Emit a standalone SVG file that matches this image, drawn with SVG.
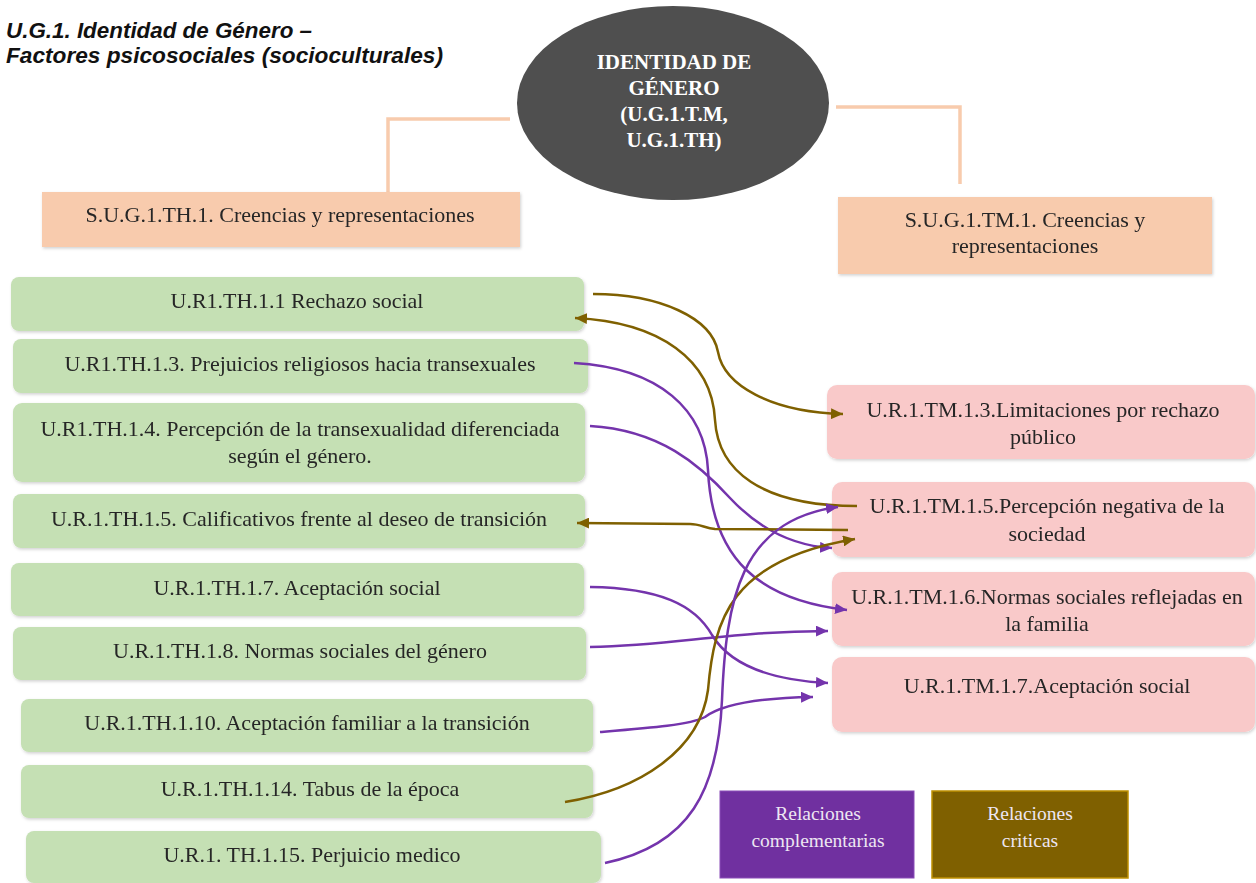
<svg xmlns="http://www.w3.org/2000/svg" width="1256" height="883" viewBox="0 0 1256 883">
<defs>
<style>
.t{font-family:"Liberation Serif","Times New Roman",serif;font-size:22px;fill:#262626;text-anchor:middle}
.g{fill:#C5E0B4}
.p{fill:#F9C9C9}
.o{fill:#F8CBAD}
.cp{fill:none;stroke:#7434AC;stroke-width:2.5}
.co{fill:none;stroke:#7F6000;stroke-width:2.5}
.lnk{fill:none;stroke:#F8CBAD;stroke-width:3.5}
.lg{font-family:"Liberation Serif","Times New Roman",serif;font-size:19.5px;fill:#EDE6F2;text-anchor:middle}
</style>
<filter id="sh" x="-5%" y="-20%" width="110%" height="140%">
<feDropShadow dx="1" dy="1.5" stdDeviation="1.5" flood-color="#000" flood-opacity="0.18"/>
</filter>
<marker id="ap" markerUnits="userSpaceOnUse" markerWidth="12" markerHeight="11" refX="12" refY="5.5" orient="auto"><path d="M0,0 L12,5.5 L0,11 z" fill="#7434AC"/></marker>
<marker id="ao" markerUnits="userSpaceOnUse" markerWidth="12" markerHeight="11" refX="12" refY="5.5" orient="auto"><path d="M0,0 L12,5.5 L0,11 z" fill="#7F6000"/></marker>
</defs>
<rect width="1256" height="883" fill="#fff"/>

<g id="title" font-family="'Liberation Sans',Arial,sans-serif" font-weight="bold" font-style="italic" font-size="22" fill="#111">
<text x="6" y="38" textLength="306" lengthAdjust="spacingAndGlyphs">U.G.1. Identidad de Género –</text>
<text x="6" y="63" textLength="437" lengthAdjust="spacingAndGlyphs">Factores psicosociales (socioculturales)</text>
</g>

<g id="tree-links">
<path class="lnk" d="M510,119 L388,119 L388,192"/>
<path class="lnk" d="M836,107 L960,107 L960,184"/>
</g>

<g id="root">
<ellipse cx="673" cy="103" rx="156" ry="97" fill="#4F4F4F"/>
<g font-family="'Liberation Serif','Times New Roman',serif" font-weight="bold" font-size="21" fill="#fff" text-anchor="middle">
<text x="674" y="69">IDENTIDAD DE</text>
<text x="674" y="95">GÉNERO</text>
<text x="674" y="121">(U.G.1.T.M,</text>
<text x="674" y="147">U.G.1.TH)</text>
</g>
</g>

<g id="sub-th" filter="url(#sh)"><rect class="o" x="42" y="192" width="478" height="55"/><text class="t" x="280" y="222">S.U.G.1.TH.1. Creencias y representaciones</text></g>
<g id="sub-tm" filter="url(#sh)"><rect class="o" x="838" y="197" width="374" height="77"/><text class="t" x="1025" y="227">S.U.G.1.TM.1. Creencias y</text><text class="t" x="1025" y="253">representaciones</text></g>

<g id="th11" filter="url(#sh)"><rect class="g" x="11" y="277" width="573" height="54" rx="8"/><text class="t" x="297" y="308">U.R1.TH.1.1 Rechazo social</text></g>
<g id="th13" filter="url(#sh)"><rect class="g" x="13" y="339" width="575" height="54" rx="8"/><text class="t" x="300" y="371">U.R1.TH.1.3.  Prejuicios religiosos hacia transexuales</text></g>
<g id="th14" filter="url(#sh)"><rect class="g" x="13" y="403" width="572" height="79" rx="9"/><text class="t" x="300" y="436">U.R1.TH.1.4. Percepción de la transexualidad diferenciada</text><text class="t" x="300" y="463">según el género.</text></g>
<g id="th15" filter="url(#sh)"><rect class="g" x="13" y="494" width="572" height="54" rx="8"/><text class="t" x="299" y="526">U.R.1.TH.1.5. Calificativos frente al deseo de transición</text></g>
<g id="th17" filter="url(#sh)"><rect class="g" x="11" y="563" width="573" height="53" rx="8"/><text class="t" x="297" y="595">U.R.1.TH.1.7. Aceptación social</text></g>
<g id="th18" filter="url(#sh)"><rect class="g" x="13" y="627" width="573" height="53" rx="8"/><text class="t" x="300" y="658">U.R.1.TH.1.8. Normas sociales del género</text></g>
<g id="th110" filter="url(#sh)"><rect class="g" x="21" y="699" width="572" height="53" rx="8"/><text class="t" x="307" y="730">U.R.1.TH.1.10. Aceptación familiar a la transición</text></g>
<g id="th114" filter="url(#sh)"><rect class="g" x="21" y="765" width="572" height="53" rx="8"/><text class="t" x="310" y="796">U.R.1.TH.1.14. Tabus de la época</text></g>
<g id="th115" filter="url(#sh)"><rect class="g" x="26" y="831" width="575" height="52" rx="8"/><text class="t" x="312" y="862">U.R.1. TH.1.15. Perjuicio medico</text></g>

<g id="tm13" filter="url(#sh)"><rect class="p" x="827" y="385" width="428" height="74" rx="10"/><text class="t" x="1043" y="417">U.R.1.TM.1.3.Limitaciones por rechazo</text><text class="t" x="1043" y="444">público</text></g>
<g id="tm15" filter="url(#sh)"><rect class="p" x="832" y="482" width="423" height="75" rx="10"/><text class="t" x="1047" y="513">U.R.1.TM.1.5.Percepción negativa de la</text><text class="t" x="1047" y="541">sociedad</text></g>
<g id="tm16" filter="url(#sh)"><rect class="p" x="832" y="572" width="423" height="74" rx="10"/><text class="t" x="1047" y="604">U.R.1.TM.1.6.Normas sociales reflejadas en</text><text class="t" x="1047" y="631">la familia</text></g>
<g id="tm17" filter="url(#sh)"><rect class="p" x="832" y="657" width="423" height="75" rx="10"/><text class="t" x="1047" y="693">U.R.1.TM.1.7.Aceptación social</text></g>

<g id="connectors">
<path class="co" marker-end="url(#ao)" d="M593,294 C660,294 712,318 718,352 C724,385 770,412 843,414"/>
<path class="co" marker-end="url(#ao)" d="M857,506 C760,506 718,470 715,420 C712,360 660,322 575,318"/>
<path class="cp" marker-end="url(#ap)" d="M574,363 C660,368 705,410 708,470 C712,560 760,600 847,610"/>
<path class="cp" marker-end="url(#ap)" d="M590,426 C660,430 700,465 730,498 C760,530 795,546 832,548"/>
<path class="co" marker-end="url(#ao)" d="M848,530 L715,529 C705,528 700,524 690,524 L577,523"/>
<path class="cp" marker-end="url(#ap)" d="M590,587 C660,588 695,605 712,635 C730,665 770,680 828,683"/>
<path class="cp" marker-end="url(#ap)" d="M590,647 C680,645 720,632 828,631"/>
<path class="cp" marker-end="url(#ap)" d="M600,732 C650,728 690,725 705,717 C720,706 750,698 813,697"/>
<path class="co" marker-end="url(#ao)" d="M565,802 C640,790 700,750 708,690 C714,620 730,560 855,539"/>
<path class="cp" marker-end="url(#ap)" d="M605,863 C690,845 718,790 722,700 C726,600 740,520 838,507"/>
</g>

<g id="legend-comp"><rect x="720" y="791" width="194" height="87" fill="#7030A0" stroke="#8A4DB8" stroke-width="1"/><text class="lg" x="818" y="820">Relaciones</text><text class="lg" x="818" y="847">complementarias</text></g>
<g id="legend-crit"><rect x="932" y="791" width="196" height="87" fill="#7F6000" stroke="#BF9000" stroke-width="1.5"/><text class="lg" x="1030" y="820">Relaciones</text><text class="lg" x="1030" y="847">criticas</text></g>
</svg>
